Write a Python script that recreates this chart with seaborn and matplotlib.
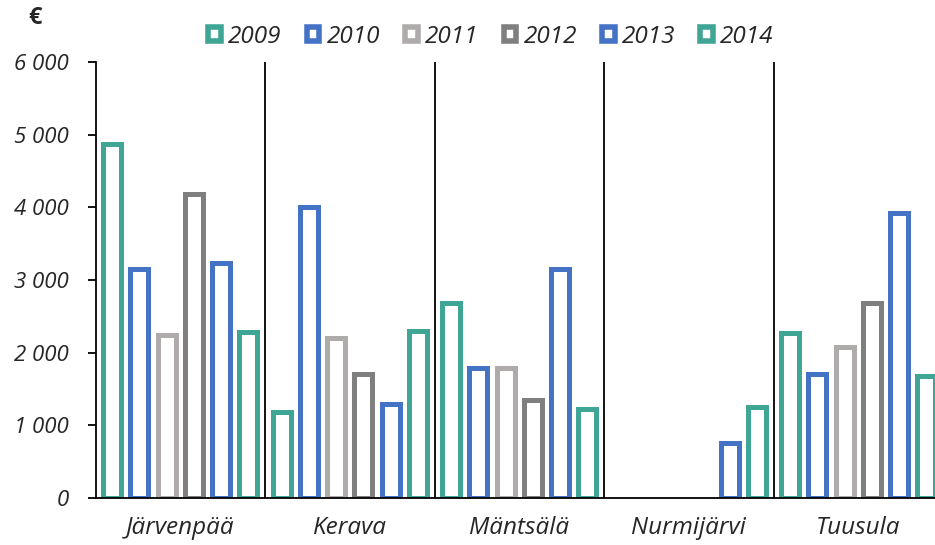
import numpy as np
import pandas as pd
import matplotlib
matplotlib.use("Agg")
import matplotlib.pyplot as plt
import seaborn as sns
from matplotlib.patches import Patch
from matplotlib.ticker import FuncFormatter, FixedLocator

municipalities = ["Järvenpää", "Kerava", "Mäntsälä", "Nurmijärvi", "Tuusula"]
years = ["2009", "2010", "2011", "2012", "2013", "2014"]
v2009 = [4870, 1190, 2680, np.nan, 2270]
v2010 = [3150, 4000, 1790, np.nan, 1700]
v2011 = [2250, 2200, 1790, np.nan, 2080]
v2012 = [4190, 1700, 1350, np.nan, 2680]
v2013 = [3240, 1300, 3150, 760, 3920]
v2014 = [2290, 2300, 1220, 1250, 1680]
colors = ["#3FA594", "#4472C4", "#AFABAB", "#7F7F7F", "#4472C4", "#3FA594"]

series = [v2009, v2010, v2011, v2012, v2013, v2014]
rows = []
for y, vals in zip(years, series):
    for m, v in zip(municipalities, vals):
        rows.append({"Kunta": m, "Vuosi": y, "Arvo": v})
df = pd.DataFrame(rows)

sns.set_style("white")
plt.rcParams["font.family"] = ["Open Sans", "DejaVu Sans"]
plt.rcParams["font.style"] = "italic"

fig = plt.figure(figsize=(9.35, 5.45), dpi=100)
ax = fig.add_axes([95.5 / 935, 47 / 545, 847.5 / 935, 436 / 545])

sns.barplot(data=df, x="Kunta", y="Arvo", hue="Vuosi", order=municipalities,
            hue_order=years, palette=colors, fill=False, linewidth=3.6,
            width=0.965, gap=0.34, errorbar=None, legend=False, ax=ax)

ax.set_xlim(-0.5, 4.5)
ax.set_ylim(0, 6000)
ax.set_yticks(np.arange(0, 6001, 1000))
ax.yaxis.set_major_formatter(FuncFormatter(lambda v, p: f"{int(v):,}".replace(",", " ")))
ax.set_xlabel("")
ax.set_ylabel("")

for s in ["top", "right"]:
    ax.spines[s].set_visible(False)
for s in ["left", "bottom"]:
    ax.spines[s].set_color("black")
    ax.spines[s].set_linewidth(1.3)
    ax.spines[s].set_zorder(5)

for b in [0.5, 1.5, 2.5, 3.5]:
    ax.axvline(b, color="black", lw=1.3, zorder=5)

ax.xaxis.set_minor_locator(FixedLocator([-0.5, 0.5, 1.5, 2.5, 3.5]))
ax.tick_params(axis="x", which="major", length=0, labelsize=17.5, pad=13)
ax.tick_params(axis="x", which="minor", length=8, width=1.3, color="black", direction="out")
ax.tick_params(axis="y", which="major", length=6, width=1.3, color="black",
               direction="out", labelsize=16, pad=13, left=True)

handles = [Patch(facecolor="white", edgecolor=c, linewidth=4, label=y)
           for y, c in zip(years, colors)]
fig.legend(handles=handles, loc="center", bbox_to_anchor=(491 / 935, 1 - 37 / 545),
           ncol=6, frameon=False, fontsize=17.5, handlelength=0.52, handleheight=0.52,
           handletextpad=0.3, columnspacing=1.03, borderaxespad=0)

fig.text(35 / 935, 1 - 18 / 545, "€", fontsize=17, fontweight="bold", style="normal",
         ha="center", va="center")

fig.savefig("out.png", dpi=100)
